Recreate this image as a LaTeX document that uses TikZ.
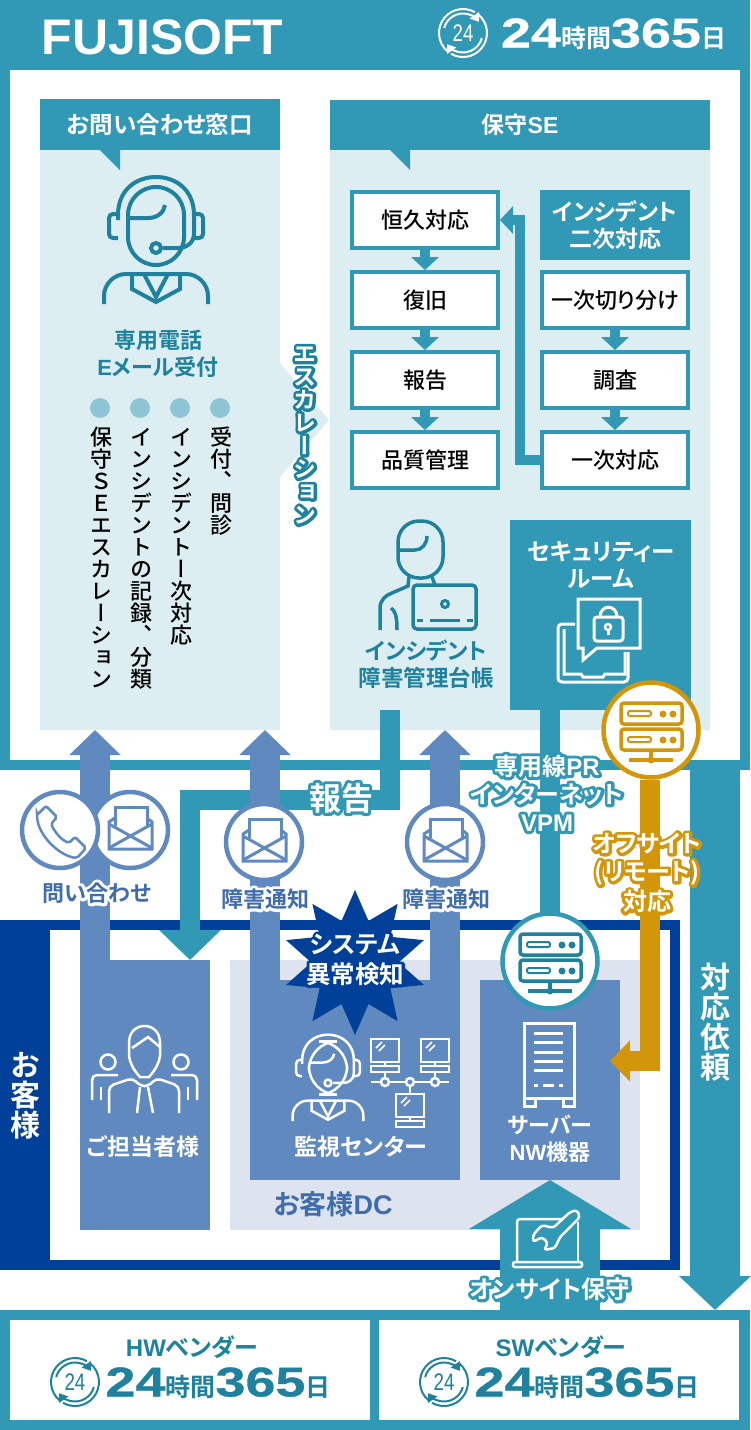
\documentclass[tikz,border=0pt]{standalone}
\usepackage{fontspec}
\usetikzlibrary{arrows.meta,shapes.geometric}
\setmainfont{Noto Sans CJK JP}[UprightFont=* Medium,BoldFont=* Bold,RawFeature=+palt]
\newfontfamily\latfont{Liberation Sans}
\newfontfamily\numfont[FakeStretch=1.3,BoldFeatures={FakeBold=.8}]{Liberation Sans}
\newfontfamily\tallfont[UprightFont=* Medium,BoldFont=* Bold,RawFeature=+vert]{Noto Sans CJK JP}

\definecolor{fsteal}{HTML}{3198B6}
\definecolor{fsdark}{HTML}{1E829E}
\definecolor{fspale}{HTML}{DDEEF2}
\definecolor{fsdot}{HTML}{8EC5D5}
\definecolor{fsblue}{HTML}{6089C0}
\definecolor{fsink}{HTML}{3F6CAC}
\definecolor{fsnavy}{HTML}{004098}
\definecolor{fsdc}{HTML}{DDE4EF}
\definecolor{fsgold}{HTML}{D39509}

\newcommand{\fs}[1]{\fontsize{#1}{#1}\selectfont\bfseries}
\newcommand{\fm}[1]{\fontsize{#1}{#1}\selectfont}
\newcommand{\lat}[1]{{\latfont #1}}
\newcommand{\halo}[2]{\leavevmode\rlap{\color{#1}\special{pdf:code 1 Tr 1 j 1 J 6 w}#2\special{pdf:code 0 Tr}}#2}
\newcommand{\daytext}{24{\rmfamily\bfseries\fm{25}時間}365{\rmfamily\bfseries\fm{25}日}}
\makeatletter
\newcommand{\tallstack}[1]{\vbox{\offinterlineskip\@tfor\tallch:=#1\do{\hbox to 1em{\vrule height .88em depth .12em width 0pt\hss\tallch\hss}}}}
\makeatother

\tikzset{
    sz/.style n args={2}{minimum width=#1pt,minimum height=#2pt,inner sep=0pt,outer sep=0pt},
    flatbox/.style={shape=rectangle,fill=#1},
    flowbox/.style={shape=rectangle,draw=fsteal,fill=white,line width=4pt,minimum width=146pt,minimum height=56pt,inner sep=0pt,font=\fm{22}},
    roundbox/.style={shape=circle,draw=#1,fill=white,line width=4.5pt,minimum size=76pt,inner sep=0pt},
    lbl/.style={font=\fs{22},inner sep=0pt,align=center},
    tall/.style={inner sep=0pt,anchor=north,font=\tallfont\fm{22}},
    flowarrow/.style={color=fsteal,line width=10pt,-{Triangle[width=27pt,length=13pt]}},
    bluearrow/.style={color=fsblue,line width=30pt,-{Triangle[width=50pt,length=25pt]}},
    tealbar/.style={color=fsteal,line width=20pt},
    pics/headset/.style={code={
        \draw (-38,-6) -- (-38,-11) .. controls (-38,-36) and (-20,-49) .. (0,-49) .. controls (20,-49) and (38,-36) .. (38,-11) -- (38,8) .. controls (38,17) and (30,22) .. (22,22) -- (7,22);
        \draw[rounded corners=28] (-28,-39) rectangle (28,39);
        \draw[rounded corners=4] (-38,-12) -- (-47,-12) -- (-47,12) -- (-38,12);
        \draw[rounded corners=4] (38,-12) -- (47,-12) -- (47,12) -- (38,12);
        \draw (0,22) circle (5);
        \draw (-28,-8) -- (-8,-8) .. controls (2,-8) and (8,-14) .. (9,-21);
        \draw (-52,78) -- (-52,70) .. controls (-52,58) and (-42,48) .. (-30,48) -- (30,48) .. controls (42,48) and (52,58) .. (52,70) -- (52,78);
        \draw (-24,48) -- (-24,63) -- (0,76) -- (24,63) -- (24,48);
        \draw (-12,48) -- (0,71) -- (12,48);
    }},
    pics/servers/.style={code={
        \draw[rounded corners=3] (-30,-27) rectangle (31,-6);
        \draw[rounded corners=3] (-30,-1) rectangle (31,20);
        \draw[rounded corners=2,line width=2pt] (-23,-19) rectangle (0,-14);
        \draw[rounded corners=2,line width=2pt] (-23,7) rectangle (0,12);
        \fill (12,-16) circle (3.5) (22,-16) circle (3.5) (12,10) circle (3.5) (22,10) circle (3.5);
        \draw (0,20) -- (0,30) (-22,30) -- (22,30);
        \fill (0,30) circle (3.5);
    }},
    pics/envelope/.style={code={
        \draw (-15,-4) -- (-15,-23) -- (17,-23) -- (17,-4);
        \draw (-15,-12) -- (-21,-8) -- (-21,19) -- (22,19) -- (22,-8) -- (17,-12);
        \draw (-21,-6) -- (22,18) (22,-6) -- (-21,18);
    }},
    pics/handset/.style={code={
        \draw[rounded corners=2] (-23,-16) -- (-14,-25) -- (-3,-14) -- (-9,-7) .. controls (-4,3) and (2,9) .. (9,12) -- (15,6) -- (26,17) -- (17,27) .. controls (0,25) and (-22,5) .. cycle;
    }},
    pics/roundclock/.style={code={
        \draw[line width=2pt] (130:24) arc[start angle=130,end angle=300,radius=24];
        \draw[line width=2pt] (310:24) arc[start angle=310,end angle=480,radius=24];
        \draw[line width=2pt,-{Triangle[width=11pt,length=8pt]}] (195:19.5) arc[start angle=195,end angle=325,radius=19.5];
        \draw[line width=2pt,-{Triangle[width=11pt,length=8pt]}] (15:19.5) arc[start angle=15,end angle=145,radius=19.5];
        \node[inner sep=0pt,font=\latfont\fm{24},xscale=.78] (-num) at (0,0) {24};
    }},
    pics/screenpc/.style={code={
        \draw (-14,-16) rectangle (14,7);
        \draw (0,7) -- (0,11);
        \draw (-14,11) rectangle (14,17);
        \draw[line width=1.5pt] (-9,-7) -- (-3,-13) (-6,-4) -- (0,-10);
    }}
}

\begin{document}
\begin{tikzpicture}[x=1pt,y=-1pt]
            \useasboundingbox (0,0) rectangle (750,1430);
            \fill[white] (0,0) rectangle (750,1430);

            % fujisoft frame
            \node[flatbox=fsteal,sz={750}{770}] (fujiFrame) at (375,385) {};
            \node[flatbox=white,sz={730}{690}] (fujiInner) at (375,415) {};
            \node[inner sep=0pt,text=white,font=\latfont\bfseries\fm{50}] (fujiName) at (162.5,37) {FUJISOFT};
            \pic[color=white,line width=2pt] (fujiClock) at (463,33) {roundclock};
            \node[inner sep=0pt,text=white,font=\numfont\bfseries\fm{41.5}] (fujiDays) at (613.5,34) {\daytext};

            % customer frame
            \node[flatbox=fsnavy,sz={680}{350}] (custFrame) at (340,1095) {};
            \node[flatbox=white,sz={620}{330}] (custInner) at (360,1095) {};
            \node[tall,text=white,font=\tallfont\fs{30}] (custName) at (25,1050) {\tallstack{お客様}};
            \node[flatbox=fsdc,sz={410}{270}] (dcPanel) at (435,1095) {};
            \node[lbl,text=fsink,font=\fs{27}] (dcName) at (333,1204) {お客様\lat{DC}};

            % vendors
            \node[flatbox=fsteal,sz={750}{120}] (vendFrame) at (375,1370) {};
            \node[flatbox=white,sz={360}{100}] (hwBox) at (190,1370) {};
            \node[flatbox=white,sz={360}{100}] (swBox) at (559,1370) {};
            \node[lbl,text=fsdark,font=\fs{24}] (hwName) at (192,1347) {\lat{HW}ベンダー};
            \node[lbl,text=fsdark,font=\fs{24}] (swName) at (561,1347) {\lat{SW}ベンダー};
            \pic[color=fsdark] (hwClock) at (75,1382) {roundclock};
            \pic[color=fsdark] (swClock) at (444,1382) {roundclock};
            \node[inner sep=0pt,text=fsdark,font=\numfont\bfseries\fm{41.5}] (hwDays) at (218,1383) {\daytext};
            \node[inner sep=0pt,text=fsdark,font=\numfont\bfseries\fm{41.5}] (swDays) at (587,1383) {\daytext};

            % contact panel
            \node[flatbox=fspale,sz={240}{631}] (toiPanel) at (160,414.5) {};
            \node[flatbox=fsteal,sz={240}{51},text=white,font=\fs{23.5}] (toiHead) at (160,124.5) {お問い合わせ窓口};
            \fill[fsteal] (100,150) -- (120,150) -- (120,170) -- cycle;
            \fill[fspale] (280,363) -- (329,420) -- (280,477) -- cycle;
            \pic[color=fsdark,line width=4pt] (toiIcon) at (156,226) {headset};
            \node[lbl,text=fsdark,align=center] (toiMail) at (158,354) {専用電話\\[5pt]\lat{E}メール受付};
            \foreach \x in {100,140,180,220} \fill[fsdot] (\x,408) circle (10);
            \node[tall] (toiStep1) at (221.5,426) {\tallstack{受付、問診}};
            \node[tall] (toiStep2) at (181.5,426) {\tallstack{インシデントー次対応}};
            \node[tall] (toiStep3) at (141.5,426) {\tallstack{インシデントの記録、分類}};
            \node[tall] (toiStep4) at (101.5,426) {\tallstack{保守ＳＥエスカレーション}};

            % maintenance panel
            \node[flatbox=fspale,sz={380}{630}] (seiPanel) at (520,415) {};
            \node[flatbox=fsteal,sz={380}{50},text=white,font=\fs{23}] (seiHead) at (520,125) {保守\lat{SE}};
            \fill[fsteal] (390,150) -- (410,150) -- (410,170) -- cycle;

            \node[flowbox] (kyuu) at (425,220) {恒久対応};
            \node[flowbox] (fukkyu) at (425,300) {復旧};
            \node[flowbox] (houkoku) at (425,380) {報告};
            \node[flowbox] (hinshitsu) at (425,460) {品質管理};

            \node[flatbox=fsteal,sz={150}{70},text=white,font=\fs{23},align=center] (niji) at (615,225) {インシデント\\[4pt]二次対応};
            \node[flowbox] (kiriwake) at (615,300) {一次切り分け};
            \node[flowbox] (chousa) at (615,380) {調査};
            \node[flowbox] (ichiji) at (615,460) {一次対応};

            \path [flowarrow] (kyuu) edge (fukkyu);
            \path [flowarrow] (fukkyu) edge (houkoku);
            \path [flowarrow] (houkoku) edge (hinshitsu);
            \path [flowarrow] (kiriwake) edge (chousa);
            \path [flowarrow] (chousa) edge (ichiji);

            \coordinate (backTurn) at (520,220);
            \draw[flowarrow] (ichiji.west) -- (ichiji.west -| backTurn) -- (backTurn) -- (kyuu.east);

            % incident ledger
            \draw[color=fsdark,line width=3.5pt,rounded corners=21] (398,521) rectangle (443,578);
            \draw[color=fsdark,line width=3.5pt] (398,550) -- (415,550) .. controls (422,550) and (427,544) .. (427,536);
            \draw[color=fsdark,line width=3.5pt] (380,630) -- (380,608) .. controls (380,600) and (386,595) .. (392,593) -- (408,586) -- (409,577);
            \draw[color=fsdark,line width=3.5pt] (391,608) .. controls (395,611) and (397,615) .. (397,630);
            \draw[color=fsdark,line width=3.5pt] (432,577) -- (435,585);
            \draw[color=fsdark,line width=3.5pt,rounded corners=4] (413,585) rectangle (476,629);
            \draw[color=fsdark,line width=3pt] (445,604) circle (3.5);
            \draw[color=fsdark,line width=3pt] (417,620) -- (423,620) (430,620) -- (460,620) (467,620) -- (473,620);
            \node[lbl,text=fsdark,align=center,font=\fs{22.5}] (ledgerName) at (426,664) {インシデント\\[4.5pt]障害管理台帳};

            % security room
            \node[flatbox=fsteal,sz={181}{190}] (secRoom) at (600.5,615) {};
            \node[lbl,text=white,font=\fs{23.5},align=center] (secName) at (601,565) {セキュリティー\\[3.5pt]ルーム};
            \draw[color=white,line width=3pt] (578,648) -- (578,599) -- (640,599) -- (640,648) -- (597,648) -- (583,660) -- (583,648) -- cycle;
            \draw[color=white,line width=3pt,rounded corners=3] (594,617) rectangle (623,641);
            \draw[color=white,line width=3pt] (600,617) .. controls (600,604) and (617,604) .. (617,617);
            \draw[color=white,line width=2.5pt] (608,627) circle (3);
            \draw[color=white,line width=3pt] (608,630) -- (608,635);
            \draw[color=white,line width=3pt,rounded corners=4] (575,624) -- (558,624) -- (558,682) -- (628,682) -- (628,652);
            \draw[color=white,line width=3pt] (564,629) -- (564,674) -- (581,674) -- (583,677) -- (603,677) -- (605,674) -- (625,674) -- (625,652);

            % customer boxes
            \node[flatbox=fsblue,sz={130}{270}] (tantou) at (145,1095) {};
            \node[flatbox=fsblue,sz={210}{200}] (kanshi) at (355,1080) {};
            \node[flatbox=fsblue,sz={140}{200}] (kiki) at (550,1080) {};

            % report line
            \coordinate (reportStart) at (390,710);
            \coordinate (reportTurn) at (190,800);
            \draw[tealbar,-{Triangle[width=60pt,length=30pt]}] (reportStart) -- (reportStart |- reportTurn) -- (reportTurn) -- (tantou.north -| reportTurn);

            % dedicated line
            \coordinate (kikiTop) at (550,961);
            \draw[tealbar] (secRoom.south -| kikiTop) -- (kikiTop);
            \node[roundbox=fsteal,minimum size=95pt] (kikiCircle) at (kikiTop) {};
            \pic[color=fsdark,line width=3.5pt] (kikiServers) at (kikiTop) {servers};

            % blue arrows
            \coordinate (toiTip) at (95,730);
            \coordinate (tsuchiTipA) at (265,730);
            \coordinate (tsuchiTipB) at (445,730);
            \draw[bluearrow] (tantou.north -| toiTip) -- (toiTip);
            \draw[bluearrow] (kanshi.north -| tsuchiTipA) -- (tsuchiTipA);
            \draw[bluearrow] (kanshi.north -| tsuchiTipB) -- (tsuchiTipB);

            % request to vendor
            \coordinate (taiouStart) at (715,770);
            \draw[color=fsteal,line width=50pt,-{Triangle[width=70pt,length=34pt]}] (taiouStart) -- (taiouStart |- vendFrame.north);
            \node[tall,text=white,font=\tallfont\fs{30}] (taiouName) at (715,962) {\tallstack{対応依頼}};

            % onsite
            \draw[color=fsteal,line width=100pt,-{Triangle[width=160pt,length=49pt]}] (vendFrame.north -| kiki) -- (kiki.south);
            \draw[color=white,line width=2.5pt,rounded corners=3] (578,1219) -- (517,1219) -- (517,1262);
            \draw[color=white,line width=2.5pt,rounded corners=3] (578,1222) -- (578,1262);
            \draw[color=white,line width=2.5pt,rounded corners=2] (513,1262) -- (582,1262) -- (582,1267) -- (513,1267) -- cycle;
            \draw[color=white,fill=fsteal,line width=2.5pt,rounded corners=3] (570,1212) -- (553,1228) -- (542,1225) -- (533,1235) -- (533,1242) -- (542,1237) -- (548,1243) -- (544,1250) -- (555,1248) -- (560,1237) -- (580,1217) -- (577,1210) -- cycle;
            \node[lbl,text=white,font=\fs{24.5}] (onsiteName) at (550,1289) {\halo{fsteal}{オンサイト保守}};

            % gold line
            \coordinate (remoteTurn) at (650,1061);
            \coordinate (remoteTip) at (610,1061);
            \node[roundbox=fsgold,minimum size=95pt] (remoteCircle) at (651,730) {};
            \draw[color=fsgold,line width=20pt,-{Triangle[width=40pt,length=20pt]}] (remoteCircle.south -| remoteTurn) -- (remoteTurn) -- (remoteTip);
            \pic[color=fsgold,line width=3.5pt] (remoteServers) at (651,730) {servers};
            \node[lbl,text=white,align=center,font=\fs{24}] (remoteName) at (647,873) {\halo{fsgold}{オフサイト}\\[4pt]\halo{fsgold}{(リモート)}\\[4pt]\halo{fsgold}{対応}};

            % circles
            \node[roundbox=fsblue] (mailCircle) at (130,830) {};
            \node[roundbox=fsblue] (phoneCircle) at (60,830) {};
            \node[roundbox=fsblue] (mailCircleA) at (264,842) {};
            \node[roundbox=fsblue] (mailCircleB) at (445,842) {};
            \pic[color=fsblue,line width=3pt] (mailIcon) at (130,830) {envelope};
            \pic[color=fsblue,line width=3pt] (mailIconA) at (264,842) {envelope};
            \pic[color=fsblue,line width=3pt] (mailIconB) at (445,842) {envelope};
            \pic[color=fsblue,line width=2.5pt] (phoneIcon) at (60,831) {handset};

            \node[lbl,text=fsink] (toiName) at (97,893) {\halo{white}{問い合わせ}};
            \node[lbl,text=fsink] (tsuchiA) at (265,899) {\halo{white}{障害通知}};
            \node[lbl,text=fsink] (tsuchiB) at (446,899) {\halo{white}{障害通知}};

            % flying labels
            \node[tall,text=white,font=\tallfont\fs{23}] (escName) at (305,342) {\halo{fsdark}{\tallstack{エスカレーション}}};
            \node[lbl,text=white,font=\fs{32}] (reportName) at (341,798) {\halo{fsteal}{報告}};
            \node[lbl,text=white,align=center,font=\fs{24}] (lineName) at (547,793) {\halo{fsteal}{専用線\lat{PR}}\\[4pt]\halo{fsteal}{インターネット}\\[4pt]\halo{fsteal}{\lat{VPM}}};

            % star
            \node[shape=star,star points=10,star point ratio=1.66,fill=fsnavy,minimum size=145pt,inner sep=0pt,outer sep=0pt] (alertStar) at (355,962.5) {};
            \node[lbl,text=white,align=center,font=\fs{24.5}] (alertName) at (355,960) {\halo{fsnavy}{システム}\\[5pt]\halo{fsnavy}{異常検知}};

            % customer icons
            \draw[color=white,line width=2.5pt] (129,1056) -- (129,1043) .. controls (129,1032) and (136,1026) .. (144.5,1026) .. controls (153,1026) and (160,1032) .. (160,1043) -- (160,1056) .. controls (159,1063) and (156,1069) .. (149,1077) -- (140,1077) .. controls (133,1069) and (130,1063) .. (129,1056);
            \draw[color=white,line width=2.5pt] (132,1048) -- (148,1037) -- (160,1047);
            \draw[color=white,line width=2.5pt,rounded corners=5] (109,1113) -- (109,1086) -- (133,1078) -- (140,1086) -- (149,1086) -- (156,1078) -- (179,1086) -- (179,1113);
            \draw[color=white,line width=2.5pt] (140,1087) -- (137,1113) (148,1087) -- (153,1113);
            \draw[color=white,line width=2.5pt] (108,1062) circle (7.5) (181,1062) circle (7.5);
            \draw[color=white,line width=2.5pt,rounded corners=5] (92,1100) -- (92,1075) -- (118,1075);
            \draw[color=white,line width=2.5pt,rounded corners=5] (197,1100) -- (197,1075) -- (171,1075);
            \draw[color=white,line width=2.5pt] (101,1087) -- (101,1100) (188,1087) -- (188,1100);
            \node[lbl,text=white,font=\fs{23}] (tantouName) at (143,1147) {ご担当者様};

            \pic[color=white,line width=2.5pt,scale=.68] (kanshiIcon) at (328,1068) {headset};
            \pic[color=white,line width=2.5pt] (pcA) at (385,1055) {screenpc};
            \pic[color=white,line width=2.5pt] (pcB) at (435,1055) {screenpc};
            \pic[color=white,line width=2.5pt] (pcC) at (410,1110) {screenpc};
            \draw[color=white,line width=2.5pt] (371,1082) -- (449,1082) (385,1072) -- (385,1078) (435,1072) -- (435,1078) (410,1086) -- (410,1094);
            \draw[color=white,fill=fsblue,line width=2.5pt] (385,1082) circle (4) (410,1082) circle (4) (435,1082) circle (4);
            \node[lbl,text=white,font=\fs{23}] (kanshiName) at (361,1147) {監視センター};

            \draw[color=white,line width=3pt] (524,1023) rectangle (574,1098);
            \draw[color=white,line width=3pt] (534,1033) -- (563,1033) (534,1042) -- (563,1042) (534,1052) -- (563,1052) (534,1061) -- (563,1061) (534,1070) -- (563,1070);
            \draw[color=white,line width=3pt] (534,1085) -- (538,1085) (543,1085) -- (554,1085) (559,1085) -- (563,1085);
            \draw[color=white,line width=3pt] (524,1098) -- (524,1106) -- (535,1106) -- (535,1098) (563,1098) -- (563,1106) -- (574,1106) -- (574,1098);
            \node[lbl,text=white,align=center] (kikiName) at (550,1139) {サーバー\\[5pt]\lat{NW}機器};
        \end{tikzpicture}
\end{document}
